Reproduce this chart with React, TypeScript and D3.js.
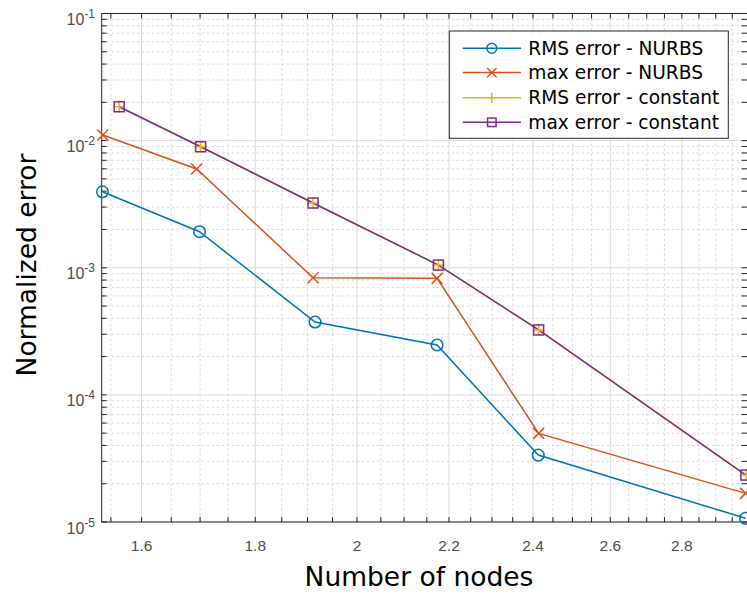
import React from "react";
import * as d3 from "d3";

const W = 747;
const H = 594;

// Data (x = number of nodes on log axis, y = normalized error)
const seriesNames = [
  "RMS error - NURBS",
  "max error - NURBS",
  "RMS error - constant",
  "max error - constant",
];
const rmsNurbsX = [1.5365, 1.699, 1.915, 2.173, 2.413, 2.991];
const rmsNurbsY = [0.00396, 0.00192, 0.000374, 0.000247, 0.0000336, 0.0000107];
const maxNurbsX = [1.537, 1.694, 1.911, 2.173, 2.414, 2.991];
const maxNurbsY = [0.01107, 0.00598, 0.000834, 0.000825, 0.0000498, 0.0000168];
const rmsConstX = [1.5634, 1.701, 1.911, 2.176, 2.414, 2.992];
const rmsConstY = [0.01848, 0.00895, 0.00323, 0.00105, 0.000324, 0.0000234];
const maxConstX = [1.5634, 1.701, 1.911, 2.176, 2.414, 2.992];
const maxConstY = [0.01848, 0.00895, 0.00323, 0.00105, 0.000324, 0.0000234];

const xTicks = [1.6, 1.8, 2, 2.2, 2.4, 2.6, 2.8];
const xTickLabels = ["1.6", "1.8", "2", "2.2", "2.4", "2.6", "2.8"];
const yTicks = [1e-5, 1e-4, 1e-3, 1e-2, 1e-1];
const yTickExponents = ["-5", "-4", "-3", "-2", "-1"];

const colors = ["#0072BD", "#D95319", "#EDB120", "#7E2F8E"];
const markers = ["circle", "x", "plus", "square"];

const left = 101.7;
const right = 747.5;
const top = 13.5;
const bottom = 522;

export default function App() {
  const x = d3.scaleLog().domain([1.5353, 2.997]).range([left, right]);
  const y = d3.scaleLog().domain([1e-5, 1e-1]).range([bottom, top]);

  const xMinor = d3
    .range(1.55, 3.0, 0.05)
    .map((v) => Math.round(v * 100) / 100)
    .filter((v) => !xTicks.some((t) => Math.abs(t - v) < 1e-6));
  const yMinor: number[] = [];
  for (let d = -5; d < -1; d++) {
    for (let m = 2; m <= 9; m++) yMinor.push(m * Math.pow(10, d));
  }

  const series = [
    { xs: rmsNurbsX, ys: rmsNurbsY },
    { xs: maxNurbsX, ys: maxNurbsY },
    { xs: rmsConstX, ys: rmsConstY },
    { xs: maxConstX, ys: maxConstY },
  ];

  const line = d3
    .line<[number, number]>()
    .x((d) => x(d[0]))
    .y((d) => y(d[1]));

  const drawMarker = (type: string, cx: number, cy: number, color: string, key: string, s = 1) => {
    if (type === "circle")
      return <circle key={key} cx={cx} cy={cy} r={5.8 * s} fill="none" stroke={color} strokeWidth={1.5} />;
    if (type === "x") {
      const r = 5.5 * s;
      return (
        <path key={key} d={`M${cx - r},${cy - r}L${cx + r},${cy + r}M${cx - r},${cy + r}L${cx + r},${cy - r}`} stroke={color} strokeWidth={1.5} fill="none" />
      );
    }
    if (type === "plus") {
      const r = 6 * s;
      return (
        <path key={key} d={`M${cx - r},${cy}L${cx + r},${cy}M${cx},${cy - r}L${cx},${cy + r}`} stroke={color} strokeWidth={1.5} fill="none" />
      );
    }
    const r = 5 * s;
    return <rect key={key} x={cx - r} y={cy - r} width={2 * r} height={2 * r} fill="none" stroke={color} strokeWidth={1.5} />;
  };

  const axisColor = "#262626";
  const labelColor = "#4d4d4d";
  const tickFont = "'Liberation Sans', Arial, sans-serif";
  const bigFont = "'DejaVu Sans', Verdana, sans-serif";

  const legX = 449.3;
  const legY = 31;
  const legW = 279;
  const legH = 107.3;
  const rowY = [48.3, 72.6, 97.8, 122.3];

  return (
    <svg width={W} height={H} style={{ position: "absolute", left: 0, top: 0, background: "#fff" }}>
      <rect x={0} y={0} width={W} height={H} fill="#fff" />
      <defs>
        <clipPath id="plotclip">
          <rect x={left} y={top} width={right - left} height={bottom - top} />
        </clipPath>
      </defs>
      {/* minor grid */}
      <g stroke="#cfcfcf" strokeWidth={0.8} strokeDasharray="2.5,2.5">
        {xMinor.map((v, i) => (
          <line key={"xm" + i} x1={x(v)} x2={x(v)} y1={top} y2={bottom} />
        ))}
        {yMinor.map((v, i) => (
          <line key={"ym" + i} x1={left} x2={right} y1={y(v)} y2={y(v)} />
        ))}
      </g>
      {/* major grid */}
      <g stroke="#dadada" strokeWidth={1}>
        {xTicks.map((v, i) => (
          <line key={"xg" + i} x1={x(v)} x2={x(v)} y1={top} y2={bottom} />
        ))}
        {yTicks.map((v, i) => (
          <line key={"yg" + i} x1={left} x2={right} y1={y(v)} y2={y(v)} />
        ))}
      </g>
      {/* axes box and ticks */}
      <g stroke={axisColor} strokeWidth={1}>
        <rect x={left} y={top} width={right - left} height={bottom - top} fill="none" />
        {[...xTicks, ...xMinor].map((v, i) => (
          <g key={"xt" + i}>
            <line x1={x(v)} x2={x(v)} y1={bottom} y2={bottom - 5} />
            <line x1={x(v)} x2={x(v)} y1={top} y2={top + 5} />
          </g>
        ))}
        {[...yTicks, ...yMinor].map((v, i) => (
          <g key={"yt" + i}>
            <line x1={left} x2={left + 5} y1={y(v)} y2={y(v)} />
            <line x1={right} x2={right - 6} y1={y(v)} y2={y(v)} />
          </g>
        ))}
      </g>
      {/* tick labels */}
      <g fontFamily={tickFont} fill={labelColor}>
        {xTicks.map((v, i) => (
          <text key={"xl" + i} x={x(v)} y={551} fontSize={15.5} textAnchor="middle">
            {xTickLabels[i]}
          </text>
        ))}
        {yTicks.map((v, i) => (
          <text key={"yl" + i} x={95} y={y(v) + 11.5} fontSize={16} textAnchor="end">
            10
            <tspan fontSize={12} dy={-7}>
              {yTickExponents[i]}
            </tspan>
          </text>
        ))}
      </g>
      {/* axis titles */}
      <text x={419} y={586} fontFamily={bigFont} fontSize={26.5} textAnchor="middle" fill="#000">
        Number of nodes
      </text>
      <text
        transform={`translate(36,${265}) rotate(-90)`}
        fontFamily={bigFont}
        fontSize={26.5}
        textAnchor="middle"
        fill="#000"
      >
        Normalized error
      </text>
      {/* series */}
      <g clipPath="url(#plotclip)">
        {series.map((s, si) => (
          <path
            key={"l" + si}
            d={line(s.xs.map((v, k) => [v, s.ys[k]] as [number, number])) || ""}
            fill="none"
            stroke={colors[si]}
            strokeWidth={1.5}
          />
        ))}
      </g>
      <g>
        {series.map((s, si) =>
          s.xs.map((v, k) => drawMarker(markers[si], x(v), y(s.ys[k]), colors[si], `m${si}-${k}`))
        )}
      </g>
      {/* legend */}
      <g>
        <rect x={legX} y={legY} width={legW} height={legH} fill="#fff" stroke={axisColor} strokeWidth={1} />
        {seriesNames.map((name, i) => (
          <g key={"lg" + i}>
            <line x1={462.7} x2={521} y1={rowY[i]} y2={rowY[i]} stroke={colors[i]} strokeWidth={1.5} />
            {drawMarker(markers[i], 491.8, rowY[i], colors[i], "lm" + i, 0.85)}
            <text x={528.3} y={rowY[i] + 6.6} fontFamily={bigFont} fontSize={18.6} fill="#000">
              {name}
            </text>
          </g>
        ))}
      </g>
    </svg>
  );
}
